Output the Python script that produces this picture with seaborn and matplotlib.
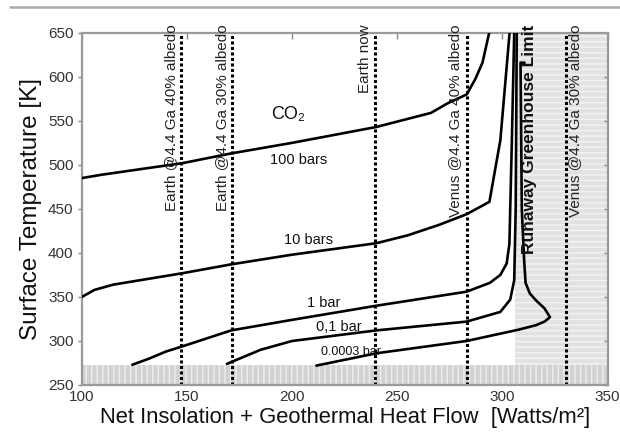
import matplotlib
matplotlib.use("Agg")
import matplotlib.pyplot as plt
from matplotlib.lines import Line2D
import numpy as np
import pandas as pd
import seaborn as sns

# CO2 surface-temperature curves (x = net flux W/m^2, y = temperature K)
x_100bar = [100, 110, 148, 171, 200, 240, 266, 274, 283, 287, 290.5, 293.7]
t_100bar = [485, 489, 502, 513, 525, 543, 559, 570, 580, 597, 616, 650]

x_10bar = [100, 106, 115, 148, 171, 200, 240, 255, 270, 283, 293.8, 299, 303.4]
t_10bar = [350, 358, 364, 377, 387, 398, 411, 420, 432, 444, 458, 528, 650]

x_1bar = [124, 132, 140, 148, 171, 200, 240, 283, 294, 299, 302, 303.3, 304.5, 305.6]
t_1bar = [273, 280, 288, 294, 312, 324, 340, 356, 366, 375, 388, 410, 530, 650]

x_01bar = [169, 185, 200, 240, 283, 299, 303.7, 305.6, 306.3, 306.8]
t_01bar = [274, 290, 300, 312, 322, 333, 347, 369, 450, 650]

x_3e4bar = [211.5, 240, 283, 308, 316, 320, 322.6, 320, 316, 313, 311, 310.3, 309.2, 308.6, 310.5]
t_3e4bar = [272, 286, 300, 313, 318, 322, 327, 337, 346, 354, 366, 392, 450, 616, 616]

curve_names = ["100 bars", "10 bars", "1 bar", "0,1 bar", "0.0003 bar"]

# Reference fluxes (vertical dotted lines) and their labels
ref_flux = [147, 171.4, 239.6, 283, 330]
ref_labels = ["Earth @4.4 Ga 40% albedo", "Earth @4.4 Ga 30% albedo", "Earth now",
              "Venus @4.4 Ga 40% albedo", "Venus @4.4 Ga 30% albedo"]
ref_label_x = [142.2, 166.6, 234.5, 277.5, 334.5]

runaway_flux = 306
freezing_T = 273

x_ticks = [100, 150, 200, 250, 300, 350]
y_ticks = [250, 300, 350, 400, 450, 500, 550, 600, 650]

frames = []
for name, xs, ts in zip(curve_names,
                        [x_100bar, x_10bar, x_1bar, x_01bar, x_3e4bar],
                        [t_100bar, t_10bar, t_1bar, t_01bar, t_3e4bar]):
    frames.append(pd.DataFrame({"flux": xs, "temp": ts, "pressure": name}))
df = pd.concat(frames, ignore_index=True)

sns.set_style("white")
plt.rcParams["font.family"] = ["Liberation Sans", "DejaVu Sans"]

fig = plt.figure(figsize=(6.2, 4.37), dpi=100)
ax = fig.add_axes([0.132, 0.119, 0.848, 0.806])

# shaded zones: frozen surface and beyond the runaway limit
ax.fill_between([100, 350], 250, freezing_T, facecolor="#d2d2d2", hatch="|||",
                edgecolor="#eeeeee", linewidth=0, zorder=0)
ax.fill_between([runaway_flux, 350], freezing_T, 650, facecolor="#e2e2e2", hatch="---",
                edgecolor="#f3f3f3", linewidth=0, zorder=0)

sns.lineplot(data=df, x="flux", y="temp", units="pressure", estimator=None, sort=False,
             color="black", linewidth=1.9, ax=ax, zorder=3)

for xv in ref_flux:
    ax.axvline(xv, color="black", linestyle=(0, (1, 0.8)), linewidth=2.2, zorder=2)

for lbl, xl in zip(ref_labels, ref_label_x):
    ax.text(xl, 659, lbl, rotation=90, ha="center", va="top", fontsize=11,
            color="#222222", clip_on=False)

ax.text(312.8, 659, "Runaway Greenhouse Limit", rotation=90, ha="center", va="top",
        fontsize=12.5, fontweight="bold", color="#111111", clip_on=False)

# curve annotations
ax.text(198, 557, "CO₂", fontsize=13, ha="center", va="center", color="#111111")
ax.text(203, 505, "100 bars", fontsize=10.5, ha="center", va="center", color="#111111")
ax.text(208, 415, "10 bars", fontsize=10.5, ha="center", va="center", color="#111111")
ax.text(215, 343, "1 bar", fontsize=10.5, ha="center", va="center", color="#111111")
ax.text(222, 316, "0,1 bar", fontsize=10.5, ha="center", va="center", color="#111111")
ax.text(228, 288, "0.0003 bar", fontsize=9, ha="center", va="center", color="#111111")

ax.set_xlim(100, 350)
ax.set_ylim(250, 650)
ax.set_xticks(x_ticks)
ax.set_yticks(y_ticks)
ax.set_xlabel("Net Insolation + Geothermal Heat Flow  [Watts/m²]", fontsize=15.8,
              color="#111111", labelpad=2)
ax.set_ylabel("Surface Temperature [K]", fontsize=17.5, color="#111111", labelpad=4)

for side in ["left", "right", "top", "bottom"]:
    ax.spines[side].set_color("#9a9a9a")
    ax.spines[side].set_linewidth(1.6)

ax.tick_params(axis="both", which="both", direction="in", length=4, width=1,
               color="#888888", labelsize=11, labelcolor="#333333",
               top=True, right=True)
ax.tick_params(axis="y", direction="out", length=3, left=True, right=True, pad=3)
for t in ax.yaxis.get_major_ticks():
    t.tick2line.set_marker(matplotlib.lines.TICKLEFT)

# rule along the top of the figure
fig.add_artist(Line2D([0.016, 1.0], [0.984, 0.984], color="#aaaaaa", linewidth=1.8))

fig.savefig("out.png", dpi=100)
